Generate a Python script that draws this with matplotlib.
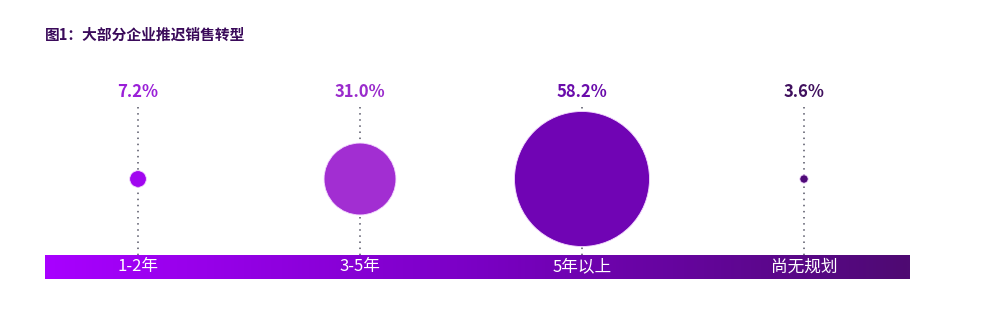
import matplotlib
matplotlib.use("Agg")
import matplotlib.pyplot as plt
import numpy as np
from matplotlib.colors import LinearSegmentedColormap

plt.rcParams['font.family'] = ['Noto Sans CJK SC', 'DejaVu Sans']

title = "图1：大部分企业推迟销售转型"
categories = ["1-2年", "3-5年", "5年以上", "尚无规划"]
values = [7.2, 31.0, 58.2, 3.6]
label_colors = ["#9a1fd8", "#9a2ccc", "#6a0cab", "#40105e"]
circle_colors = ["#a106f0", "#a22ed2", "#7004b4", "#4f0a78"]

W, H = 985, 331
fig = plt.figure(figsize=(W / 100, H / 100), dpi=100)
ax = fig.add_axes([0, 0, 1, 1])
ax.set_axis_off()

# layout: index -> pixel x
x0_px, step_px = 138.0, 222.0
def px2x(px):
    return (px - x0_px) / step_px

ax.set_xlim(px2x(0), px2x(W))
ax.set_ylim(H, 0)

xs = np.arange(len(categories))

# gradient bar
cmap = LinearSegmentedColormap.from_list("bar", ["#a800ff", "#7a00c4", "#4e0a72"])
grad = np.linspace(0, 1, 256).reshape(1, -1)
ax.imshow(grad, cmap=cmap, aspect="auto",
          extent=(px2x(45), px2x(910), 279, 255), zorder=1)

# dotted lines
for x in xs:
    ax.plot([x, x], [107, 255], color="#555566", lw=1.1,
            linestyle=(0, (1, 3)), zorder=2)

# circles: diameter proportional to value
px_per_unit = 2.32
sizes = [(v * px_per_unit * 0.72) ** 2 for v in values]
ax.scatter(xs, [179] * len(xs), s=sizes, c=circle_colors,
           edgecolors="#f4d8ff", linewidths=0.6, zorder=3)

# percent labels
for x, v, c in zip(xs, values, label_colors):
    ax.text(x, 92, f"{v:.1f}%", ha="center", va="center",
            fontsize=12, fontweight="bold", color=c, zorder=4)

# category labels
for x, cat in zip(xs, categories):
    ax.text(x, 267, cat, ha="center", va="center",
            fontsize=12, fontweight="light", color="white", zorder=4)

ax.text(px2x(45), 35, title, ha="left", va="center",
        fontsize=10.6, fontweight="bold", color="#3a0a5a")

fig.savefig("out.png", dpi=100)
